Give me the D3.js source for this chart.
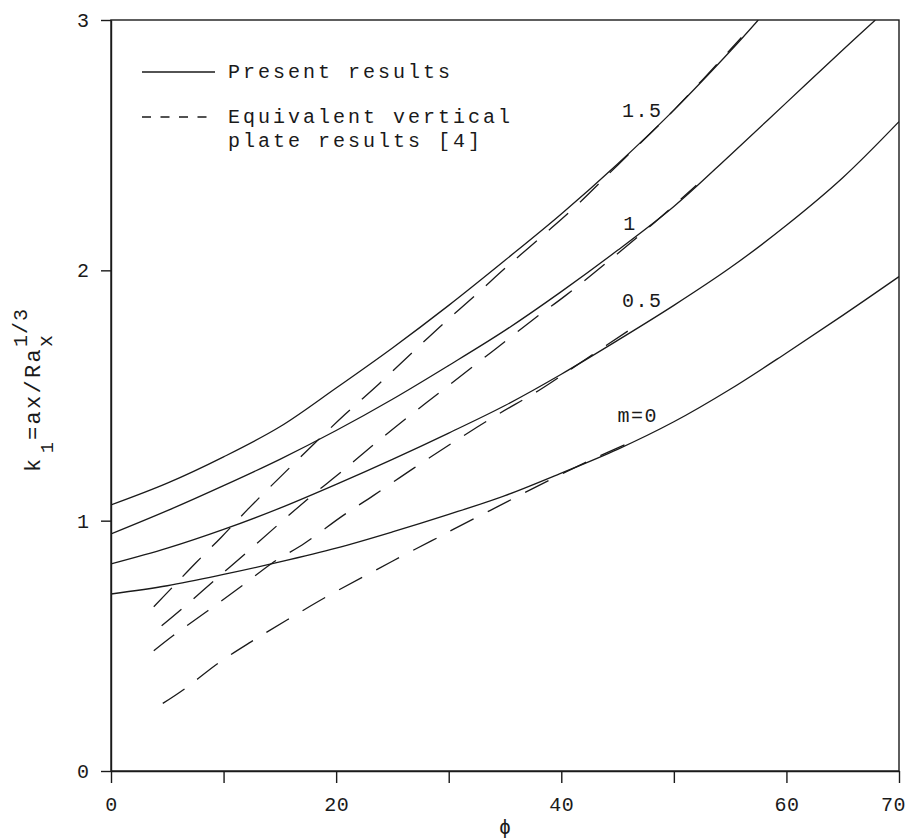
<!DOCTYPE html>
<html>
<head>
<meta charset="utf-8">
<script src="https://cdn.jsdelivr.net/npm/d3@7"></script>
<style>
  body { margin: 0; background: #fff; }
  text { font-family: "Liberation Mono", "DejaVu Sans Mono", monospace; fill: #1a1a1a; }
</style>
</head>
<body>
<script>
const width = 911;
const height = 840;

// axis ticks
const xTicks = [0, 10, 20, 30, 40, 50, 60, 70];
const xLabels = [0, 20, 40, 60, 70];
const yTicks = [0, 1, 2, 3];

// present results, [phi, k1]
const presentM0 = [[0, 0.707], [5, 0.74], [10, 0.785], [15, 0.835], [20, 0.89], [25, 0.955], [30, 1.025],
  [35, 1.10], [40, 1.19], [45, 1.285], [50, 1.395], [55, 1.525], [60, 1.67], [65, 1.82], [70, 1.975]];
const presentM05 = [[0, 0.827], [5, 0.89], [10, 0.965], [15, 1.05], [20, 1.145], [25, 1.245], [30, 1.35],
  [35, 1.46], [40, 1.585], [45, 1.72], [50, 1.86], [55, 2.01], [60, 2.18], [65, 2.37], [70, 2.594]];
const presentM1 = [[0, 0.947], [5, 1.04], [10, 1.14], [15, 1.245], [20, 1.36], [25, 1.485], [30, 1.62],
  [35, 1.76], [40, 1.915], [45, 2.08], [50, 2.255], [55, 2.46], [60, 2.67], [65, 2.88], [67.9, 3.0]];
const presentM15 = [[0, 1.063], [5, 1.15], [10, 1.255], [15, 1.375], [20, 1.53], [25, 1.69], [30, 1.86],
  [35, 2.04], [40, 2.225], [45, 2.425], [50, 2.64], [55, 2.875], [57.5, 3.0]];

// equivalent vertical plate results [4]
const plateM0 = [[4.6, 0.27], [6.6, 0.33], [9.5, 0.43], [12.4, 0.515], [15.7, 0.605], [19.3, 0.70],
  [22.8, 0.785], [25.7, 0.855], [28.5, 0.92], [30.4, 0.965], [34.3, 1.055], [39.3, 1.17], [43, 1.25], [46, 1.31]];
const plateM05 = [[3.8, 0.48], [5.5, 0.54], [8.6, 0.64], [11.8, 0.745], [14.3, 0.83], [17.2, 0.91],
  [20.6, 1.02], [23.3, 1.10], [26.9, 1.21], [30.3, 1.31], [34.2, 1.42], [38, 1.52], [42, 1.64], [47, 1.79]];
const plateM1 = [[4.5, 0.58], [6.1, 0.64], [8.9, 0.75], [12.1, 0.875], [15, 0.99], [17.7, 1.095],
  [20.6, 1.20], [23.5, 1.31], [26.7, 1.425], [29.7, 1.53], [33.7, 1.67], [37.4, 1.80], [40.4, 1.90],
  [44, 2.03], [48, 2.18], [52, 2.34]];
const plateM15 = [[3.8, 0.656], [5.5, 0.736], [7.5, 0.83], [9.8, 0.934], [12.3, 1.052], [15, 1.173],
  [18, 1.305], [20.8, 1.425], [23.8, 1.546], [26.7, 1.669], [29.4, 1.782], [32.5, 1.906], [35.1, 2.012],
  [38.4, 2.141], [41.4, 2.261], [45, 2.42], [50, 2.64], [56, 2.93]];

const curveLabels = ["m=0", "0.5", "1", "1.5"];

const x = d3.scaleLinear().domain([0, 70]).range([111, 899]);
const y = d3.scaleLinear().domain([0, 3]).range([771, 20]);

const svg = d3.select('body').append('svg')
  .attr('width', width)
  .attr('height', height);

svg.append('defs').append('clipPath').attr('id', 'plot')
  .append('rect')
  .attr('x', x(0)).attr('y', y(3))
  .attr('width', x(70) - x(0)).attr('height', y(0) - y(3));

const line = d3.line()
  .x(d => x(d[0]))
  .y(d => y(d[1]))
  .curve(d3.curveCatmullRom.alpha(0.5));

const curves = svg.append('g').attr('clip-path', 'url(#plot)');

curves.selectAll('path.plate')
  .data([plateM0, plateM05, plateM1, plateM15])
  .join('path')
  .classed('plate', true)
  .attr('d', line)
  .attr('fill', 'none')
  .attr('stroke', '#1a1a1a')
  .attr('stroke-width', 1.3)
  .attr('stroke-dasharray', '26,16');

curves.selectAll('path.present')
  .data([presentM0, presentM05, presentM1, presentM15])
  .join('path')
  .classed('present', true)
  .attr('d', line)
  .attr('fill', 'none')
  .attr('stroke', '#1a1a1a')
  .attr('stroke-width', 1.3);

// frame
svg.append('rect')
  .attr('x', x(0)).attr('y', y(3))
  .attr('width', x(70) - x(0)).attr('height', y(0) - y(3))
  .attr('fill', 'none')
  .attr('stroke', '#1a1a1a')
  .attr('stroke-width', 1.4);

// axes
const xAxis = d3.axisBottom(x)
  .tickValues(xTicks)
  .tickSize(12)
  .tickSizeOuter(0)
  .tickFormat(d => xLabels.includes(d) ? d : '');

const gx = svg.append('g')
  .attr('transform', `translate(0, ${y(0)})`)
  .call(xAxis);
gx.selectAll('text')
  .attr('y', 26)
  .attr('dx', d => d === 70 ? -6 : 0)
  .style('font-size', '20px')
  .style('letter-spacing', '0.5px');

const yAxis = d3.axisLeft(y)
  .tickValues(yTicks)
  .tickSize(10)
  .tickPadding(12)
  .tickSizeOuter(0)
  .tickFormat(d3.format('d'));

const gy = svg.append('g')
  .attr('transform', `translate(${x(0)}, 0)`)
  .call(yAxis);
gy.selectAll('text').style('font-size', '20px');

svg.selectAll('.domain, .tick line')
  .attr('stroke', '#1a1a1a')
  .attr('stroke-width', 1.4);
svg.selectAll('.tick text').attr('font-family', null).attr('fill', '#1a1a1a');

// curve labels
const labelAt = [[45.0, 1.394], [45.4, 1.854], [45.5, 2.161], [45.4, 2.613]];
svg.selectAll('text.mlabel')
  .data(curveLabels)
  .join('text')
  .classed('mlabel', true)
  .attr('x', (d, i) => x(labelAt[i][0]))
  .attr('y', (d, i) => y(labelAt[i][1]))
  .style('font-size', '20px')
  .style('letter-spacing', '1.5px')
  .text(d => d);

// legend
const legend = svg.append('g');
legend.append('line')
  .attr('x1', 142).attr('x2', 215).attr('y1', 72).attr('y2', 72)
  .attr('stroke', '#1a1a1a').attr('stroke-width', 1.3);
legend.append('line')
  .attr('x1', 142).attr('x2', 215).attr('y1', 117).attr('y2', 117)
  .attr('stroke', '#1a1a1a').attr('stroke-width', 1.3)
  .attr('stroke-dasharray', '9,9.5');
const legendText = [["Present results", 78], ["Equivalent vertical", 123], ["plate results [4]", 147]];
legend.selectAll('text')
  .data(legendText)
  .join('text')
  .attr('x', 228)
  .attr('y', d => d[1])
  .style('font-size', '20px')
  .style('letter-spacing', '3px')
  .text(d => d[0]);

// x axis title
svg.append('text')
  .attr('x', x(35))
  .attr('y', 834)
  .attr('text-anchor', 'middle')
  .style('font-size', '20px')
  .text('\u03D5');

// y axis title: k1 = ax / Ra_x^(1/3)
const yTitle = svg.append('g').attr('transform', 'translate(40, 472) rotate(-90)');
yTitle.append('text').attr('x', 0).attr('y', 0).style('font-size', '22px').text('k');
yTitle.append('text').attr('x', 19).attr('y', 13).style('font-size', '18px').text('1');
yTitle.append('text').attr('x', 32).attr('y', 0).style('font-size', '22px')
  .style('letter-spacing', '2.3px').text('=ax/Ra');
yTitle.append('text').attr('x', 125).attr('y', 12).style('font-size', '20px').text('x');
yTitle.append('text').attr('x', 125).attr('y', -13).style('font-size', '20px')
  .style('letter-spacing', '1px').text('1/3');
</script>
</body>
</html>
